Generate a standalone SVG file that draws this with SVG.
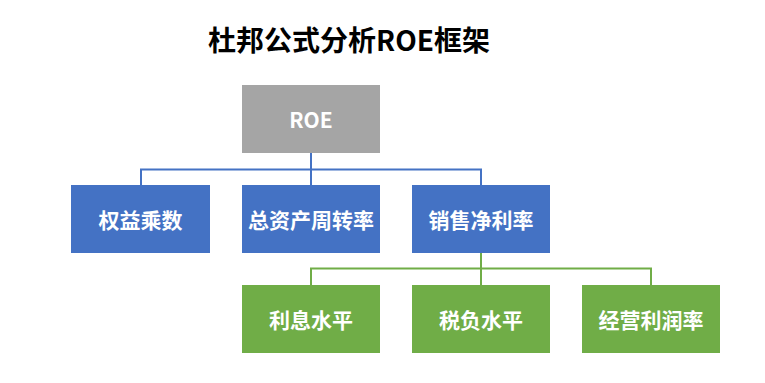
<svg xmlns="http://www.w3.org/2000/svg" width="765" height="383" viewBox="0 0 765 383">
<style>
text{font-family:"Noto Sans CJK SC","Noto Sans",sans-serif;font-weight:bold;text-anchor:middle;dominant-baseline:central}
.lbl{fill:#fff;font-size:21px}
.grey{fill:#A5A5A5}
.blue{fill:#4472C4}
.green{fill:#70AD47}
.cb{stroke:#4472C4;stroke-width:2;fill:none}
.cg{stroke:#70AD47;stroke-width:2;fill:none}
</style>
<rect width="765" height="383" fill="#fff"/>
<text id="title" x="349" y="39" style="font-size:28px;fill:#000">杜邦公式分析ROE框架</text>
<g id="connectors">
<path class="cb" d="M311 153V185M141 185V169.5H481V185"/>
<path class="cg" d="M481 253V285M311 285V268.5H651V285"/>
</g>
<g id="roe"><rect class="grey" x="242" y="85" width="138" height="68"/><text class="lbl" x="311" y="119">ROE</text></g>
<g id="n1"><rect class="blue" x="71" y="185" width="139" height="68"/><text class="lbl" x="140.5" y="219">权益乘数</text></g>
<g id="n2"><rect class="blue" x="242" y="185" width="138" height="68"/><text class="lbl" x="311" y="219">总资产周转率</text></g>
<g id="n3"><rect class="blue" x="412" y="185" width="138" height="68"/><text class="lbl" x="481" y="219">销售净利率</text></g>
<g id="n4"><rect class="green" x="242" y="285" width="138" height="68"/><text class="lbl" x="311" y="319">利息水平</text></g>
<g id="n5"><rect class="green" x="412" y="285" width="138" height="68"/><text class="lbl" x="481" y="319">税负水平</text></g>
<g id="n6"><rect class="green" x="582" y="285" width="138" height="68"/><text class="lbl" x="651" y="319">经营利润率</text></g>
</svg>
